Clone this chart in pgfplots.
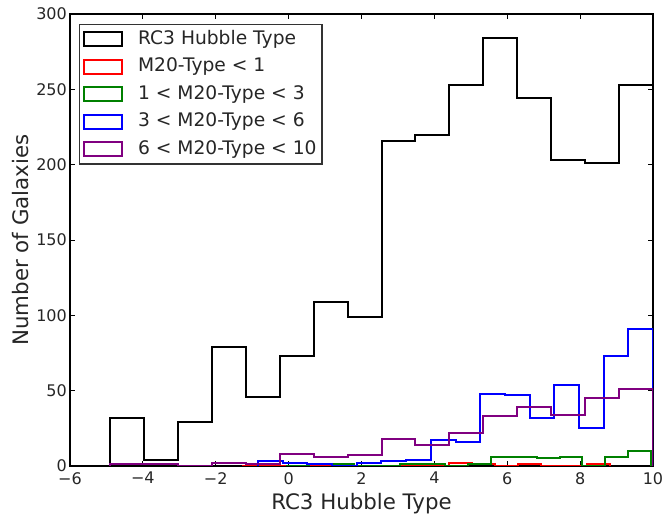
\documentclass[border=0pt]{standalone}
\usepackage{fontspec}
\setmainfont{DejaVu Sans}
\usepackage{pgfplots}
\pgfplotsset{compat=1.18}
\definecolor{mplgreen}{RGB}{0,128,0}
\definecolor{mplpurple}{RGB}{128,0,128}
\definecolor{txt}{RGB}{38,38,38}
\begin{document}
\begin{tikzpicture}
\useasboundingbox (-70pt,-51pt) rectangle (595pt,466pt);
\begin{axis}[
  at={(0pt,0pt)}, anchor=south west,
  scale only axis, width=583pt, height=452pt,
  xmin=-6, xmax=10, ymin=0, ymax=300,
  xtick={-6,-4,-2,0,2,4,6,8,10},
  xticklabels={−6,−4,−2,0,2,4,6,8,10},
  ytick={0,50,100,150,200,250,300},
  tick align=inside, major tick length=5pt,
  tick style={line width=1pt, color=black},
  axis line style={line width=1.3pt},
  /pgf/number format/assume math mode=true,
  tick label style={font=\fontsize{16}{19}\selectfont, text=txt},
  xticklabel style={inner sep=2pt, yshift=-4pt},
  yticklabel style={inner sep=3pt},
  xlabel={RC3 Hubble Type}, ylabel={Number of Galaxies},
  label style={font=\fontsize{21.33}{25}\selectfont, text=txt},
  xlabel style={at={(axis description cs:0.5,-0.084)}, anchor=center},
  ylabel style={at={(axis description cs:-0.084,0.5)}, anchor=center},
  legend style={at={(axis description cs:0.0154,0.978)}, anchor=north west,
    draw=black!80, line width=1.3pt, font=\fontsize{18.67}{22}\selectfont,
    text=txt, inner sep=3pt, row sep=4.6pt, column sep=13pt,
    nodes={text height=14pt, text depth=4pt, inner sep=2.5pt}},
  legend cell align=left,
  legend image code/.code={\draw[#1, line width=2pt] (0pt,-7pt) rectangle (38pt,7pt);},
]
\addplot[black, line width=2pt, const plot] coordinates {
(-4.9,0) (-4.9,32) (-3.969,4) (-3.038,29) (-2.106,79) (-1.175,46) (-0.244,73)
(0.688,109) (1.619,99) (2.55,216) (3.481,220) (4.413,253) (5.344,284)
(6.275,244) (7.206,203) (8.138,201) (9.069,253) (10,253) (10,0)};
\addlegendentry{RC3 Hubble Type}
\addplot[red, line width=2pt, const plot] coordinates {
(-1.29,0) (-1.29,0) (-0.658,0) (-0.026,0) (0.606,0) (1.238,0) (1.87,0)
(2.502,0) (3.134,0) (3.766,0) (4.398,2) (5.03,1) (5.662,0) (6.294,1)
(6.926,0) (7.558,0) (8.19,1) (8.822,1) (8.822,0)};
\addlegendentry{M20-Type < 1}
\addplot[mplgreen, line width=2pt, const plot] coordinates {
(-0.08,0) (-0.08,0) (0.546,1) (1.173,1) (1.799,0) (2.425,0) (3.051,1)
(3.678,1) (4.304,0) (4.93,1) (5.556,6) (6.183,6) (6.809,5) (7.435,6)
(8.061,0) (8.688,6) (9.314,10) (9.94,10) (9.94,0)};
\addlegendentry{1 < M20-Type < 3}
\addplot[blue, line width=2pt, const plot] coordinates {
(-0.84,0) (-0.84,3) (-0.163,2) (0.515,1) (1.193,0) (1.87,2) (2.548,3)
(3.225,4) (3.903,17) (4.58,16) (5.258,48) (5.935,47) (6.613,32) (7.29,54)
(7.968,25) (8.645,73) (9.323,91) (10,91) (10,0)};
\addlegendentry{3 < M20-Type < 6}
\addplot[mplpurple, line width=2pt, const plot] coordinates {
(-4.9,0) (-4.9,1) (-3.969,1) (-3.038,0) (-2.106,2) (-1.175,1) (-0.244,8)
(0.688,6) (1.619,7) (2.55,18) (3.481,14) (4.413,22) (5.344,33)
(6.275,39) (7.206,34) (8.138,45) (9.069,51) (10,51) (10,0)};
\addlegendentry{6 < M20-Type < 10}
\end{axis}
\end{tikzpicture}
\end{document}
